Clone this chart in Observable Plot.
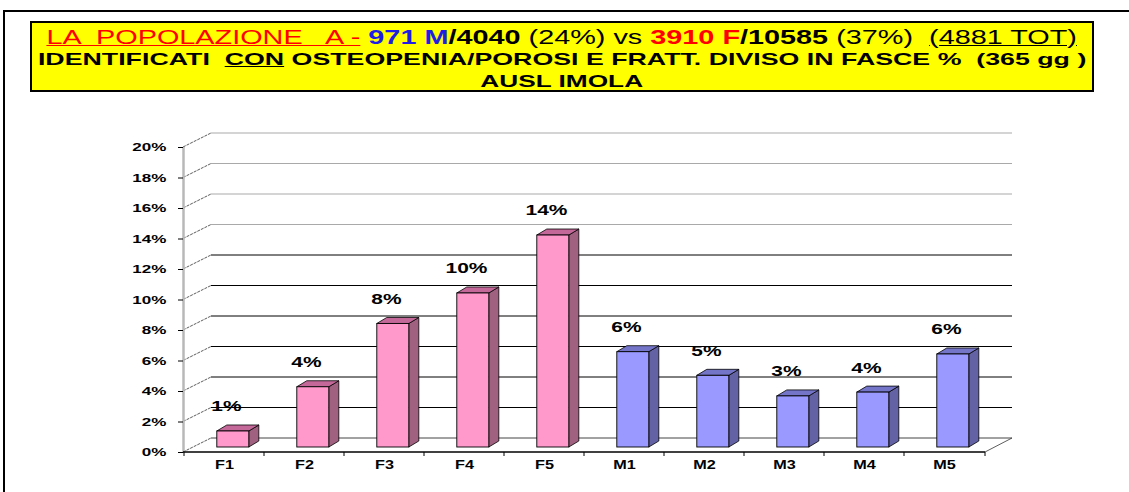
<!DOCTYPE html>
<html>
<head>
<meta charset="utf-8">
<script src="https://cdn.jsdelivr.net/npm/d3@7"></script>
<script src="https://cdn.jsdelivr.net/npm/@observablehq/plot@0.6"></script>
<style>
  html, body { margin: 0; padding: 0; background: #fff; }
  #page { position: relative; width: 1129px; height: 492px; overflow: hidden; background: #fff;
          font-family: "Liberation Sans", Arial, sans-serif; }
  #frame { position: absolute; left: 3px; top: 10px; width: 2000px; height: 1000px;
           border-left: 2px solid #000; border-top: 2px solid #000; }
  #titlebox { position: absolute; left: 30px; top: 21px; width: 1064px; height: 71px;
              background: #ffff00; border: 2px solid #000; box-sizing: border-box; }
  .tline { position: absolute; left: 0; width: 1124px; text-align: center; white-space: pre; color: #000; }
  .tline > span.inner { display: inline-block; transform-origin: 50% 50%; }
  #chart { position: absolute; left: 0; top: 100px; }
</style>
</head>
<body>
<div id="page">
  <div id="frame"></div>
  <div id="titlebox"></div>
  <div class="tline" id="t1" style="top:27.5px;font-size:19.5px;line-height:19.5px;"><span class="inner"><span style="color:#ff0000;text-decoration:underline;">LA  POPOLAZIONE   A -</span> <b style="color:#1e1ee6;">971 M</b><b>/4040</b> (24%) vs <b style="color:#ff0000;">3910 F</b><b>/10585</b> (37%)  <span style="text-decoration:underline;">(4881 TOT)</span></span></div>
  <div class="tline" id="t2" style="top:50.6px;font-size:17px;line-height:17px;font-weight:bold;"><span class="inner">IDENTIFICATI  <span style="text-decoration:underline;">CON</span> OSTEOPENIA/POROSI E FRATT. DIVISO IN FASCE %  (365 gg )</span></div>
  <div class="tline" id="t3" style="top:72.6px;font-size:17px;line-height:17px;font-weight:bold;"><span class="inner">AUSL IMOLA</span></div>
  <div id="chart"></div>
</div>
<script>
// ---- data ----
const categories = ["F1", "F2", "F3", "F4", "F5", "M1", "M2", "M3", "M4", "M5"];
const shares = [1.05, 3.95, 8.1, 10.1, 13.9, 6.25, 4.7, 3.35, 3.6, 6.1]; // percent
const yTicks = [0, 2, 4, 6, 8, 10, 12, 14, 16, 18, 20];
const shareLabels = shares.map(v => Math.round(v) + "%");

const palette = {
  F: {front: "#ff99cc", side: "#a0607f", top: "#c4689a"},
  M: {front: "#9999ff", side: "#6262a4", top: "#7474c8"}
};

const table = categories.map((c, i) => ({cat: c, share: shares[i], label: shareLabels[i]}));

// 3D depth constants (pixels)
const WALL_DX = 28, WALL_DY = -14;
const BAR_DX = 10, BAR_DY = -6, BAR_SHIFT = -5;

function walls(index, scales, vals, dims) {
  const {x, y} = scales;
  const g = d3.create("svg:g");
  const xl = dims.marginLeft, xr = dims.width - dims.marginRight;
  yTicks.forEach(t => {
    const yy = y(t) + WALL_DY;
    g.append("line")
      .attr("x1", xl + WALL_DX).attr("x2", xr + WALL_DX - 1)
      .attr("y1", yy).attr("y2", yy)
      .attr("stroke", t >= 14 ? "#a9a9a9" : (t === 0 ? "#444" : "#000"))
      .attr("stroke-width", 1);
  });
  yTicks.forEach(t => {
    g.append("line")
      .attr("x1", xl).attr("y1", y(t))
      .attr("x2", xl + WALL_DX).attr("y2", y(t) + WALL_DY)
      .attr("stroke", "#333").attr("stroke-width", 0.8)
      .attr("stroke-dasharray", "3,1");
  });
  g.append("line")
    .attr("x1", xl + 0.5).attr("x2", xl + 0.5)
    .attr("y1", y(0)).attr("y2", y(20))
    .attr("stroke", "#b8b8b8").attr("stroke-width", 2.5);
  g.append("line")
    .attr("x1", xr).attr("y1", y(0))
    .attr("x2", xr + WALL_DX - 1).attr("y2", y(0) + WALL_DY)
    .attr("stroke", "#333").attr("stroke-width", 0.8);
  return g.node();
}

function bars(index, scales) {
  const {x, y} = scales;
  const g = d3.create("svg:g");
  const bw = x.bandwidth();
  table.forEach(d => {
    const col = palette[d.cat[0]];
    const x0 = x(d.cat) + 0.41 * bw, x1 = x0 + 0.40 * bw;
    const yb = y(0) + BAR_SHIFT, yt = y(d.share) + BAR_SHIFT;
    const poly = pts => pts.map(p => p.join(",")).join(" ");
    g.append("polygon")
      .attr("points", poly([[x1, yb], [x1, yt], [x1 + BAR_DX, yt + BAR_DY], [x1 + BAR_DX, yb + BAR_DY]]))
      .attr("fill", col.side).attr("stroke", "#000").attr("stroke-width", 0.8).attr("stroke-linejoin", "round");
    g.append("polygon")
      .attr("points", poly([[x0, yt], [x1, yt], [x1 + BAR_DX, yt + BAR_DY], [x0 + BAR_DX, yt + BAR_DY]]))
      .attr("fill", col.top).attr("stroke", "#000").attr("stroke-width", 0.8).attr("stroke-linejoin", "round");
    g.append("rect")
      .attr("x", x0).attr("y", yt).attr("width", x1 - x0).attr("height", yb - yt)
      .attr("fill", col.front).attr("stroke", "#000").attr("stroke-width", 0.9);
  });
  return g.node();
}

function xAxisLine(index, scales, vals, dims) {
  const {x, y} = scales;
  const g = d3.create("svg:g");
  const xl = dims.marginLeft, xr = dims.width - dims.marginRight;
  g.append("line").attr("x1", xl).attr("x2", xr).attr("y1", y(0)).attr("y2", y(0))
    .attr("stroke", "#000").attr("stroke-width", 1.6);
  categories.concat([null]).forEach(c => {
    const xx = c === null ? xr : x(c);
    g.append("line").attr("x1", xx).attr("x2", xx).attr("y1", y(0)).attr("y2", y(0) + 4)
      .attr("stroke", "#000").attr("stroke-width", 1);
  });
  return g.node();
}

const chart = Plot.plot({
  width: 1129,
  height: 392,
  marginTop: 47,
  marginBottom: 40,
  marginLeft: 183,
  marginRight: 144,
  style: {fontFamily: "'Liberation Sans', Arial, sans-serif", fontSize: "11px", color: "#000", background: "transparent", overflow: "visible"},
  x: {type: "band", domain: categories, padding: 0, align: 0.5, label: null},
  y: {type: "linear", domain: [0, 20], label: null},
  marks: [
    walls,
    bars,
    xAxisLine,
    Plot.text(table, {x: "cat", y: "share", text: "label", dy: -30, dx: 2,
      fontSize: 15.5, fontWeight: "bold", fill: "#000"}),
    Plot.axisY({ticks: yTicks, tickFormat: d => d + "%", tickSize: 5, tickPadding: 12,
      fontWeight: "bold", fontSize: 11, label: null, stroke: "#000"}),
    Plot.axisX({tickSize: 0, tickPadding: 8, fontWeight: "bold", fontSize: 12.5, label: null})
  ]
});
document.getElementById("chart").appendChild(chart);

function stretch(nodes, k) {
  nodes.forEach(el => {
    const b = el.getBBox();
    const anchor = getComputedStyle(el).textAnchor;
    const ax = anchor === "end" ? b.x + b.width : anchor === "middle" ? b.x + b.width / 2 : b.x;
    const prev = el.getAttribute("transform") || "";
    el.setAttribute("transform", `${prev} translate(${ax},0) scale(${k},1) translate(${-ax},0)`);
  });
}
const svg = chart.tagName.toLowerCase() === "svg" ? chart : chart.querySelector("svg");
stretch(Array.from(svg.querySelectorAll('g[aria-label="y-axis tick label"] text')), 1.55);
stretch(Array.from(svg.querySelectorAll('g[aria-label="x-axis tick label"] text')), 1.3);
stretch(Array.from(svg.querySelectorAll('g[aria-label="text"] text')), 1.35);

[["t1", 1030], ["t2", 1048], ["t3", 162]].forEach(([id, w]) => {
  const span = document.querySelector("#" + id + " .inner");
  const k = w / span.offsetWidth;
  span.style.transform = `scaleX(${k})`;
});
</script>
</body>
</html>
